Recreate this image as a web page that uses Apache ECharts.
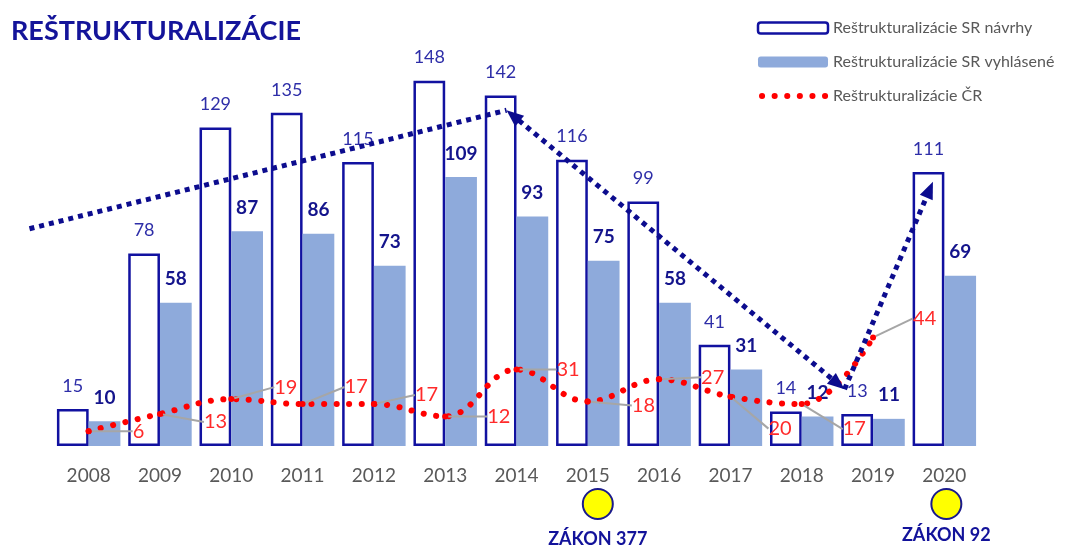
<!DOCTYPE html>
<html>
<head>
<meta charset="utf-8" />
<script src="https://cdn.jsdelivr.net/npm/echarts@6/dist/echarts.min.js"></script>
<style>
    html, body { margin: 0; padding: 0; background: #fff; }
    #main { width: 1067px; height: 549px; }
</style>
</head>
<body>
<div id="main"></div>
<script>
    // data
    var roky = ['2008', '2009', '2010', '2011', '2012', '2013', '2014', '2015', '2016', '2017', '2018', '2019', '2020'];
    var navrhySR = [15, 78, 129, 135, 115, 148, 142, 116, 99, 41, 14, 13, 111];
    var vyhlaseneSR = [10, 58, 87, 86, 73, 109, 93, 75, 58, 31, 12, 11, 69];
    var restrCR = [6, 13, 19, 17, 17, 12, 31, 18, 27, 20, 17, 44, null];
    var nazvy = ['Reštrukturalizácie SR návrhy', 'Reštrukturalizácie SR vyhlásené', 'Reštrukturalizácie ČR'];
    var zakonRoky = ['2015', '2020'];
    var zakonTexty = ['ZÁKON 377', 'ZÁKON 92'];
    // trend arrows, points as [year index, value]
    var trendBody = [[-0.83, 88], [5.86, 136], [10.6, 23], [11.84, 107]];

    var FONT = 'Lato, "Open Sans", sans-serif';
    var NAVY = '#1111a0';

    // where the CR labels sit relative to their point
    var posunCR = [[41, 0], [41, 8], [40, -12], [39, -17], [38, -9], [39, 0], [37, 0], [41, 4], [39, -2], [35, 32], [38, 25], [37, -19]];

    var chart = echarts.init(document.getElementById('main'));

    var option = {
        animation: false,
        textStyle: { fontFamily: FONT },
        title: {
            text: 'REŠTRUKTURALIZÁCIE',
            left: 6,
            top: 13,
            textStyle: { fontFamily: FONT, fontSize: 27, fontWeight: 'bold', color: '#14149a' }
        },
        legend: {
            orient: 'vertical',
            left: 750,
            top: 15,
            itemWidth: 70,
            itemHeight: 11,
            itemGap: 18,
            selectedMode: false,
            textStyle: { color: '#595959', fontSize: 16, fontFamily: FONT },
            data: [
                { name: nazvy[0], itemStyle: { color: '#fff', borderColor: NAVY, borderWidth: 2.5 } },
                { name: nazvy[1] },
                {
                    name: nazvy[2],
                    itemStyle: { opacity: 0 },
                    lineStyle: { color: '#ff0000', width: 6, type: [0.1, 12.5], cap: 'round', dashOffset: -4 }
                }
            ]
        },
        grid: { left: 53, right: 87, top: 51, bottom: 103 },
        xAxis: {
            type: 'category',
            data: roky,
            axisLine: { show: false },
            axisTick: { show: false },
            axisLabel: { color: '#595959', fontSize: 19, margin: 20, fontFamily: FONT }
        },
        yAxis: {
            type: 'value',
            min: 0,
            max: 160,
            show: false,
            splitLine: { show: false }
        },
        series: [
            {
                name: nazvy[0],
                type: 'bar',
                data: navrhySR,
                barGap: '0%',
                barCategoryGap: '11%',
                itemStyle: { color: '#fff', borderColor: NAVY, borderWidth: 2.5 },
                label: { show: true, position: 'top', distance: 14, color: '#2e2ea8', fontSize: 18, fontFamily: FONT }
            },
            {
                name: nazvy[1],
                type: 'bar',
                data: vyhlaseneSR,
                itemStyle: { color: '#8eaadb' },
                label: { show: true, position: 'top', distance: 14, color: '#14148c', fontSize: 19, fontWeight: 'bold', fontFamily: FONT }
            },
            {
                name: nazvy[2],
                type: 'line',
                data: restrCR,
                smooth: 0.4,
                z: 5,
                symbol: 'circle',
                symbolSize: 6,
                itemStyle: { color: '#ff0000' },
                lineStyle: { color: '#ff0000', width: 6, type: [0.1, 12.5], cap: 'round' },
                label: { show: true, position: 'right', distance: 0, color: '#ff2a2a', fontSize: 20, fontFamily: FONT },
                labelLine: { show: true, lineStyle: { color: '#a6a6a6', width: 2 } },
                labelLayout: function (p) {
                    var s = posunCR[p.dataIndex] || [0, 0];
                    return { dx: s[0], dy: s[1] };
                }
            }
        ]
    };
    chart.setOption(option);

    // annotations
    function bod(idx, val) {
        var a = chart.convertToPixel({ xAxisIndex: 0 }, roky[0]);
        var b = chart.convertToPixel({ xAxisIndex: 0 }, roky[1]);
        return [a + idx * (b - a), chart.convertToPixel({ yAxisIndex: 0 }, val)];
    }

    function hrot(t, from) {
        var dx = t[0] - from[0], dy = t[1] - from[1];
        var d = Math.sqrt(dx * dx + dy * dy);
        var ux = dx / d, uy = dy / d;
        var bx = t[0] - ux * 17, by = t[1] - uy * 17;
        return {
            type: 'polygon', silent: true, z: 100,
            shape: { points: [t, [bx - uy * 7, by + ux * 7], [bx + uy * 7, by - ux * 7]] },
            style: { fill: '#0c0c8e' }
        };
    }

    function kresliSipku(g, p, q, hlavaZac, hlavaKon) {
        var dx = q[0] - p[0], dy = q[1] - p[1];
        var d = Math.sqrt(dx * dx + dy * dy);
        var ux = dx / d, uy = dy / d;
        var s = hlavaZac ? [p[0] + ux * 16, p[1] + uy * 16] : p;
        var e = hlavaKon ? [q[0] - ux * 16, q[1] - uy * 16] : q;
        g.push({
            type: 'line', silent: true, z: 100,
            shape: { x1: s[0], y1: s[1], x2: e[0], y2: e[1] },
            style: { stroke: '#0c0c8e', lineWidth: 5, lineDash: [5, 5] }
        });
        if (hlavaZac) g.push(hrot(p, q));
        if (hlavaKon) g.push(hrot(q, p));
    }

    var g = [];
    var tb = trendBody.map(function (t) { return bod(t[0], t[1]); });
    kresliSipku(g, tb[0], tb[1], false, false);
    kresliSipku(g, tb[1], tb[2], true, true);
    kresliSipku(g, tb[2], tb[3], false, true);

    var zaklad = chart.convertToPixel({ yAxisIndex: 0 }, 0);
    var posunKruh = [10, 2];
    zakonRoky.forEach(function (r, i) {
        var x = chart.convertToPixel({ xAxisIndex: 0 }, r) + posunKruh[i];
        g.push({
            type: 'circle', silent: true,
            shape: { cx: x, cy: zaklad + 58, r: 15 },
            style: { fill: '#ffff00', stroke: '#1a1a8c', lineWidth: 2 }
        });
        g.push({
            type: 'text', silent: true,
            x: x, y: zaklad + 93 - i * 4,
            style: {
                text: zakonTexty[i], fill: '#12129a', font: 'bold 18px ' + FONT,
                align: 'center', verticalAlign: 'middle'
            }
        });
    });
    chart.setOption({ graphic: g });
</script>
</body>
</html>
